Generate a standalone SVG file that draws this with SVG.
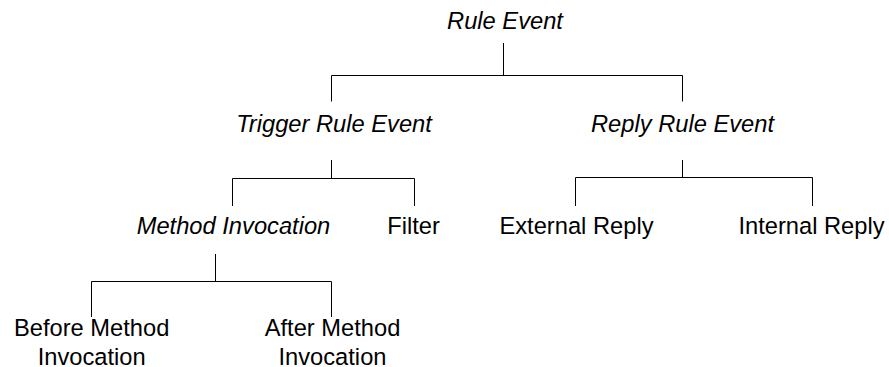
<svg xmlns="http://www.w3.org/2000/svg" width="889" height="367" viewBox="0 0 889 367">
  <style>
    text { font-family: "Liberation Sans", Arial, sans-serif; font-size: 23.7px; fill: #000; text-anchor: middle; }
    .abs { font-style: italic; }
    .conn path { fill: none; stroke: #000; stroke-width: 1; }
  </style>
  <rect width="889" height="367" fill="#fff"/>
  <g class="conn" id="connectors">
    <path d="M503.5 43V75.5M331.5 101.5V75.5H682.5V101.5"/>
    <path d="M331.5 160V178.5M232.5 206V178.5H414.5V206"/>
    <path d="M682.5 160V177.5M575.5 206V177.5H812.5V206"/>
    <path d="M215.5 254V281.5M91.5 317V281.5H331.5V317"/>
  </g>
  <g id="rule-event"><text class="abs" x="505" y="28.5">Rule Event</text></g>
  <g id="trigger-rule-event"><text class="abs" x="334" y="131.5">Trigger Rule Event</text></g>
  <g id="reply-rule-event"><text class="abs" x="682.5" y="131.5">Reply Rule Event</text></g>
  <g id="method-invocation"><text class="abs" x="233.5" y="234">Method Invocation</text></g>
  <g id="filter"><text x="413.5" y="234">Filter</text></g>
  <g id="external-reply"><text x="576.5" y="234">External Reply</text></g>
  <g id="internal-reply"><text x="811.5" y="234">Internal Reply</text></g>
  <g id="before-method-invocation"><text x="91.7" y="336">Before Method</text><text x="91.7" y="365">Invocation</text></g>
  <g id="after-method-invocation"><text x="332.5" y="336">After Method</text><text x="332.5" y="365">Invocation</text></g>
</svg>
